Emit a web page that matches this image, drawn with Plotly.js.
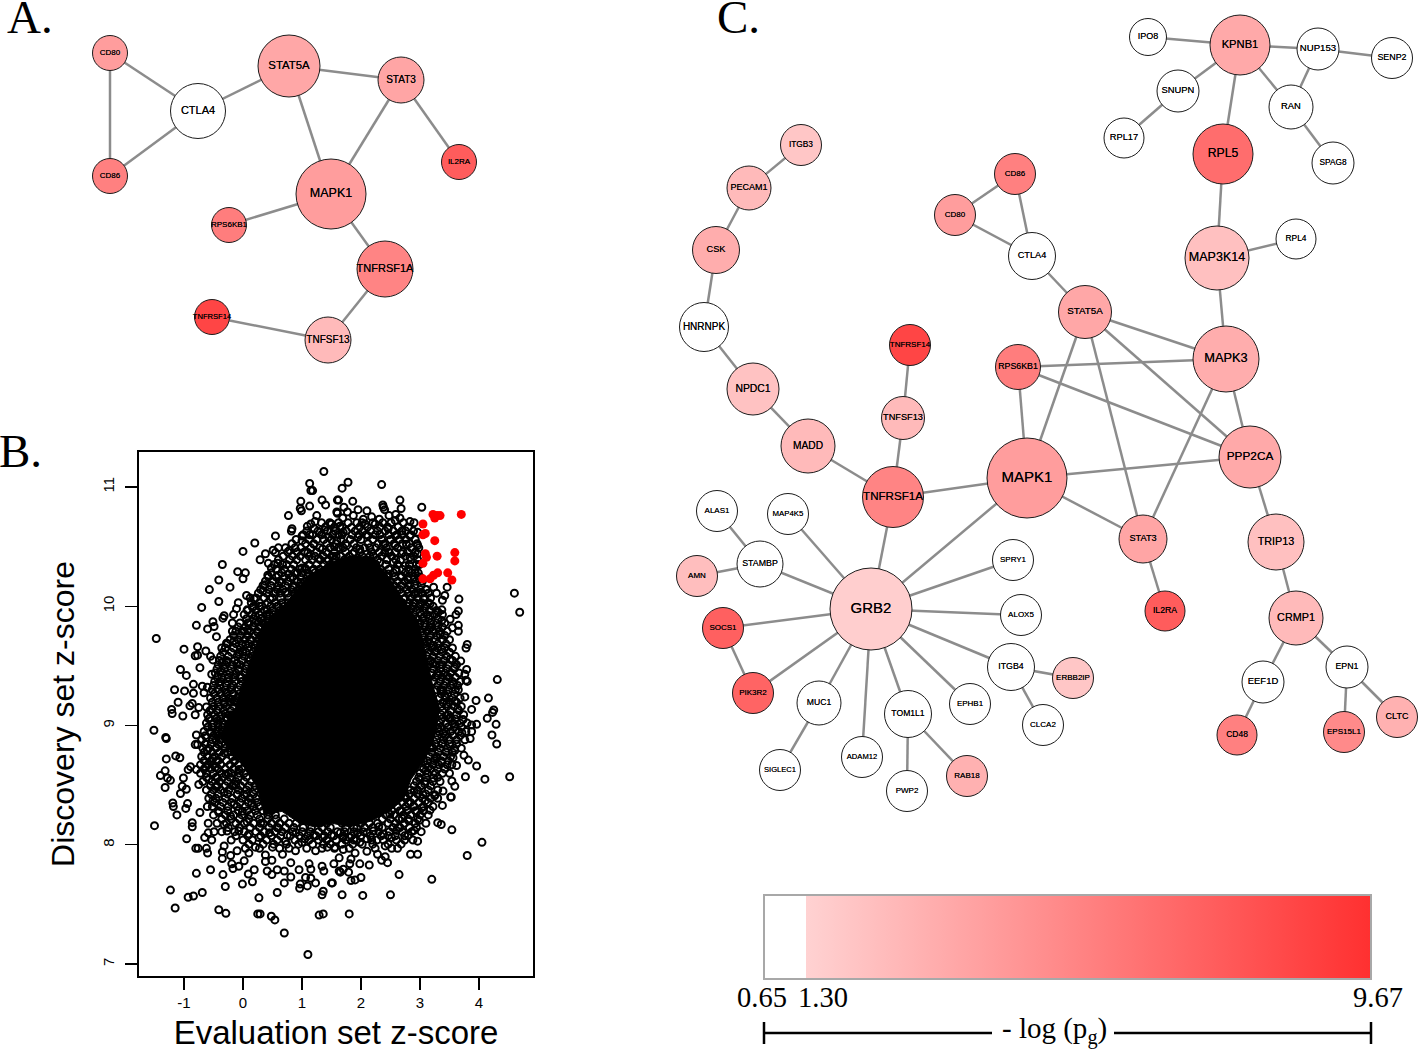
<!DOCTYPE html>
<html><head><meta charset="utf-8">
<script src="https://cdn.plot.ly/plotly-3.0.1.min.js"></script>
<style>html,body{margin:0;padding:0;background:#fff}#c{width:1418px;height:1051px}</style>
</head><body><div id="c"></div>
<script>
// ---------- Panel B: values (evaluation z, discovery z)
const ptsTopLeft=[[1.37,11.13],[1.13,11.03],[1.18,10.97],[1.15,10.97],[1.34,10.89],[1.40,10.85],[1.60,10.89],[0.98,10.88],[1.13,10.84],[0.97,10.82],[0.99,10.80],[0.77,10.76],[1.25,10.76],[1.60,10.78],[1.49,10.69],[1.22,10.71],[1.09,10.67],[1.15,10.69],[1.21,10.65],[1.38,10.64],[0.83,10.65],[0.82,10.63],[0.55,10.59],[0.20,10.53],[1.0,10.59],[1.13,10.60],[1.0,10.55],[0.0,10.46],[0.60,10.49],[0.51,10.47],[0.38,10.44],[0.55,10.45],[0.88,10.49],[0.79,10.47],[0.29,10.39],[0.59,10.36],[0.67,10.35],[0.43,10.36],[-0.35,10.35],[0.48,10.32],[1.0,10.32],[-0.09,10.29],[0.04,10.28],[0.0,10.23],[-0.41,10.22],[0.42,10.26],[0.6,10.26],[0.77,10.27],[-0.22,10.16],[-0.57,10.14],[0.37,10.18],[0.34,10.13],[0.06,10.09],[0.12,10.07],[0.19,10.06],[-0.41,10.04],[-0.08,10.03],[-0.70,9.99],[-0.11,9.98],[0.07,9.97],[0.16,9.99],[0.28,10.0],[0.41,9.97],[-0.32,9.92],[-0.34,9.90],[-0.16,9.93],[0.21,9.92],[-0.51,9.87],[-0.79,9.84],[-0.18,9.86],[0.10,9.86],[0.27,9.87],[1.3,10.62],[1.45,10.58],[1.55,10.50],[1.35,10.48],[1.2,10.52],[1.1,10.45],[1.28,10.40],[1.42,10.38],[1.58,10.42],[1.05,10.32],[1.18,10.30],[0.92,10.28],[0.8,10.24],[0.66,10.20],[0.55,10.12],[0.46,10.06],[0.72,10.12],[0.85,10.16],[0.98,10.20],[1.14,10.22],[1.25,10.2],[1.4,10.3],[1.62,10.6],[0.6,10.0],[0.32,9.9],[0.45,9.93],[0.25,9.78],[0.12,9.72],[0.08,9.8],[0.2,9.68],[0.0,9.62],[-0.1,9.52],[0.05,9.5],[-0.2,9.32],[-0.05,9.4],[-0.18,9.22],[-0.3,9.1]];
const ptsTopRight=[[1.78,11.04],[1.68,10.99],[2.35,11.02],[1.62,10.89],[1.86,10.88],[2.66,10.89],[2.37,10.85],[2.38,10.83],[2.68,10.82],[2.40,10.81],[1.71,10.83],[3.03,10.83],[1.59,10.79],[1.77,10.79],[1.95,10.81],[2.10,10.80],[2.475,10.76],[2.59,10.77],[2.66,10.74],[2.58,10.72],[2.83,10.71],[2.31,10.73],[2.18,10.75],[2.04,10.73],[1.87,10.76],[1.69,10.74],[1.50,10.69],[1.64,10.67],[1.70,10.62],[1.84,10.66],[2.07,10.69],[2.24,10.69],[2.46,10.65],[2.69,10.63],[2.96,10.62],[2.83,10.59],[2.58,10.59],[2.32,10.60],[2.12,10.59],[1.95,10.58],[1.76,10.51],[1.59,10.55],[2.96,10.51],[2.77,10.52],[2.58,10.51],[2.38,10.52],[2.15,10.49],[1.98,10.48],[1.86,10.44],[2.48,10.45],[2.69,10.44],[2.96,10.44],[2.83,10.41],[2.21,10.42],[2.94,10.35],[2.75,10.34],[2.55,10.37],[2.32,10.37],[2.10,10.34],[1.95,10.37],[1.70,10.37],[1.53,10.42],[2.99,10.23],[2.92,10.28],[2.69,10.25],[2.46,10.27],[2.83,10.18],[2.66,10.14],[2.97,10.11],[3.11,10.14],[3.23,10.16],[3.46,10.16],[3.28,10.11],[3.42,10.09],[3.38,10.05],[3.66,10.06],[3.06,10.06],[3.17,10.02],[3.37,9.97],[3.31,9.95],[3.65,9.96],[3.61,9.93],[3.51,9.89],[3.37,9.88],[3.65,9.84],[4.60,10.11],[4.69,9.95],[2.89,10.03],[2.72,10.06],[3.17,9.92],[3.0,9.95],[2.4,10.45],[2.6,10.3],[2.8,10.22],[2.9,10.1],[3.0,10.02],[2.85,9.98],[3.05,9.9],[3.15,9.8],[3.12,9.7],[3.25,9.62],[3.22,9.52],[3.3,9.42],[3.35,9.3],[3.42,9.25],[3.45,9.08]];
const ptsLeft=[[-1.47,9.73],[-0.60,9.81],[-0.49,9.83],[-0.45,9.745],[-1.0,9.64],[-0.77,9.66],[-0.81,9.585],[-0.77,9.59],[-0.63,9.625],[-0.36,9.65],[-0.28,9.69],[-0.55,9.58],[-0.51,9.55],[-0.73,9.485],[-1.06,9.47],[-0.96,9.42],[-0.35,9.53],[-0.53,9.43],[-0.38,9.45],[-0.25,9.40],[-0.84,9.345],[-0.69,9.33],[-0.605,9.32],[-1.16,9.30],[-0.99,9.29],[-0.84,9.27],[-0.66,9.275],[-0.41,9.36],[-1.10,9.195],[-0.86,9.185],[-0.90,9.165],[-0.75,9.15],[-0.62,9.155],[-1.21,9.135],[-1.20,9.10],[-1.02,9.08],[-0.81,9.09],[-0.52,9.136],[-0.57,9.06],[-0.45,9.06],[-0.27,9.065],[-0.12,9.05],[-1.51,8.96],[-1.31,8.90],[-1.30,8.89],[-0.79,8.92],[-0.62,8.90],[-0.55,8.94],[-0.41,8.95],[-0.81,8.84],[-0.77,8.84],[-0.605,8.79],[-0.45,8.815],[-0.51,8.725],[-1.30,8.72],[-1.14,8.745],[-1.07,8.73],[-0.89,8.655],[-0.93,8.63],[-0.79,8.63],[-0.63,8.65],[-0.47,8.65],[-1.32,8.62],[-1.40,8.58],[-1.28,8.56],[-1.23,8.54],[-1.01,8.56],[-0.58,8.55],[-0.435,8.56],[-0.29,8.59],[-0.75,8.505],[-1.03,8.49],[-0.96,8.465],[-1.32,8.48],[-1.06,8.43],[-0.45,8.485],[-0.32,8.44],[-0.15,8.51],[-0.07,8.63],[-0.15,8.70],[-0.32,8.77],[-0.10,8.42],[-0.18,9.79],[0.02,9.79],[0.19,9.83],[-0.15,9.71],[0.045,9.68],[-0.07,9.60],[-0.27,9.53],[-0.07,9.46],[0.10,9.57],[-0.29,9.275],[-0.15,9.205],[-0.32,9.18]];
const ptsBottomLeft=[[-1.19,8.35],[-1.18,8.32],[-0.94,8.345],[-0.97,8.305],[-1.12,8.25],[-1.50,8.16],[-0.73,8.27],[-0.605,8.32],[-0.51,8.37],[-0.86,8.185],[-0.86,8.15],[-0.59,8.18],[-0.41,8.27],[-0.32,8.17],[-0.955,8.05],[-0.59,8.10],[-0.49,8.11],[-0.65,8.06],[-0.53,8.04],[-0.80,7.97],[-0.76,7.97],[-0.62,7.97],[-0.60,7.93],[-0.32,7.99],[-0.35,7.94],[-0.35,7.884],[-0.21,7.91],[-0.10,7.95],[0.10,7.93],[-0.19,7.84],[-0.17,7.80],[-0.07,7.82],[0.02,7.865],[0.38,7.915],[0.49,7.87],[0.38,7.86],[0.67,7.92],[-0.79,7.76],[-0.55,7.79],[-0.34,7.75],[0.09,7.755],[0.19,7.79],[0.41,7.78],[0.49,7.75],[0.58,7.79],[0.70,7.78],[0.81,7.85],[0.95,7.79],[0.81,7.73],[1.12,7.84],[1.15,7.795],[1.37,7.78],[1.34,7.82],[1.06,7.725],[1.15,7.72],[1.23,7.68],[-0.30,7.65],[0.16,7.69],[-0.01,7.67],[0.70,7.68],[0.97,7.67],[0.96,7.635],[1.09,7.655],[1.50,7.68],[-1.23,7.62],[-0.69,7.60],[-0.84,7.57],[-0.93,7.56],[0.58,7.60],[1.36,7.61],[1.34,7.58],[0.27,7.555],[-1.15,7.47],[-0.41,7.455],[-0.29,7.425],[0.25,7.42],[0.29,7.42],[0.48,7.40],[0.54,7.37],[1.29,7.41],[1.36,7.42],[0.70,7.26],[1.10,7.08],[-0.15,8.34],[-0.01,8.28],[-0.27,8.115],[-0.07,8.115],[0.10,8.09],[0.21,7.98],[0.5,7.98],[0.89,7.95],[0.72,8.03],[1.0,8.02],[1.23,7.95],[1.43,7.98],[1.63,7.89],[1.54,7.84],[1.63,7.78],[0.27,8.06],[0.07,8.19],[-0.21,8.24],[0.3,8.18],[0.45,8.1],[0.6,8.14],[0.75,8.08],[0.9,8.1],[1.05,8.05],[1.2,8.08],[1.35,8.06],[1.5,8.08],[1.65,8.1],[1.8,8.06],[1.95,8.1],[0.15,8.35],[0.02,8.42],[-0.12,8.5],[-0.25,8.6],[-0.2,8.78],[-0.45,8.7]];
const ptsBottomRight=[[3.53,8.40],[3.25,8.41],[3.09,8.37],[3.38,8.33],[3.17,8.29],[3.03,8.31],[2.99,8.205],[2.81,8.20],[3.30,8.185],[3.36,8.17],[3.54,8.125],[2.90,8.12],[2.63,8.145],[2.80,8.08],[2.88,8.04],[2.96,8.03],[2.52,8.06],[4.05,8.02],[2.62,7.97],[2.41,7.99],[2.27,8.04],[2.10,8.05],[1.88,8.04],[1.98,8.02],[1.70,8.06],[2.10,7.945],[2.28,7.92],[1.90,7.93],[2.84,7.92],[2.96,7.92],[3.80,7.91],[2.41,7.90],[2.35,7.87],[2.45,7.85],[2.14,7.83],[1.98,7.84],[1.83,7.88],[1.81,7.84],[1.70,7.795],[1.65,7.77],[1.79,7.77],[2.645,7.75],[3.20,7.71],[2.0,7.725],[1.90,7.705],[1.83,7.70],[1.515,7.68],[1.68,7.58],[2.03,7.575],[2.50,7.58],[1.80,7.42],[2.21,8.115],[2.38,8.09],[1.93,8.14],[2.69,8.28],[2.49,8.255],[2.89,8.325],[2.75,8.41],[1.56,7.98],[1.70,7.96],[2.1,8.1],[2.3,8.15],[2.95,8.28],[2.7,8.22],[2.6,8.12],[2.8,8.35],[2.9,8.45],[3.05,8.42]];
const ptsRight=[[3.55,9.82],[3.65,9.79],[3.39,9.72],[3.80,9.68],[3.78,9.65],[3.37,9.64],[3.69,9.54],[3.51,9.555],[3.59,9.49],[3.79,9.47],[3.76,9.43],[3.78,9.38],[3.80,9.37],[4.31,9.385],[3.45,9.415],[3.56,9.345],[3.65,9.30],[3.76,9.24],[3.95,9.21],[4.16,9.23],[3.59,9.205],[3.64,9.14],[3.875,9.135],[4.25,9.13],[4.23,9.11],[4.14,9.06],[4.29,9.01],[3.73,9.05],[3.96,9.01],[3.875,9.005],[3.59,9.01],[3.71,8.94],[3.85,8.89],[3.875,8.95],[4.22,8.92],[4.30,8.845],[3.59,8.79],[3.44,8.78],[3.745,8.75],[3.56,8.73],[3.82,8.71],[3.37,8.69],[3.54,8.67],[3.62,8.665],[3.96,8.66],[3.77,8.57],[4.10,8.55],[4.52,8.57],[3.54,8.535],[3.59,8.49],[3.39,8.45],[3.52,8.40],[3.23,8.56],[3.14,8.65],[3.25,8.42],[3.08,8.51],[3.17,9.82],[3.34,9.76],[3.23,9.67],[3.17,9.54],[3.34,9.51],[3.39,9.29],[3.45,9.18],[3.51,9.07],[3.39,8.93],[3.17,8.815],[3.28,8.73],[3.06,8.70],[3.3,8.98],[3.38,8.85],[3.2,8.82],[3.25,8.72],[3.1,8.62],[3.0,8.55]];
// crowded band around the solid core, estimated row by row: [discovery z, [evaluation z ...]]
const bandRows=[
[10.70,[1.33,1.47,1.62,1.78,1.93,2.02,2.2,2.37,2.51,2.72,2.9]],
[10.63,[1.08,1.27,1.43,1.56,1.75,1.9,2.03,2.16,2.28,2.41,2.55,2.76,2.89]],
[10.56,[0.9,1.12,1.25,1.37,1.5,1.66,1.82,2.0,2.2,2.35,2.5,2.65,2.76,2.92]],
[10.49,[0.72,0.98,1.15,1.3,1.47,1.62,1.7,1.92,2.06,2.25,2.43,2.62,2.85,2.98]],
[10.42,[0.68,0.84,0.97,1.12,1.22,1.36,1.51,1.66,1.8,2.02,2.15,2.35,2.52,2.75,2.9]],
[10.35,[0.53,0.74,0.86,1.12,1.25,1.37,1.48,1.6,1.78,1.88,2.25,2.42,2.62,2.82,2.99]],
[10.28,[0.48,0.66,0.88,1.0,1.1,1.22,1.33,1.5,2.3,2.38,2.55,2.75,2.86,2.97]],
[10.21,[0.38,0.5,0.62,0.76,0.92,1.05,1.17,2.38,2.5,2.62,2.74,2.93,3.04]],
[10.14,[0.3,0.44,0.58,0.68,0.82,0.94,1.02,2.52,2.62,2.78,2.87,3.0,3.1]],
[10.07,[0.22,0.36,0.5,0.64,0.78,0.9,2.62,2.75,2.85,2.95,3.08,3.18]],
[10.0,[0.18,0.32,0.47,0.58,0.7,0.8,2.78,2.88,2.98,3.1,3.22]],
[9.93,[0.02,0.15,0.28,0.4,0.52,0.6,2.9,3.02,3.12,3.25,3.38]],
[9.86,[-0.05,0.08,0.2,0.33,0.42,3.0,3.08,3.18,3.28,3.42]],
[9.79,[-0.12,-0.02,0.12,0.24,0.36,3.02,3.12,3.22,3.33,3.46]],
[9.72,[-0.22,-0.08,0.03,0.14,0.26,3.06,3.15,3.26,3.38,3.5]],
[9.65,[-0.3,-0.16,-0.04,0.08,0.2,3.1,3.2,3.3,3.42,3.55]],
[9.58,[-0.38,-0.25,-0.1,0.02,0.16,3.12,3.22,3.33,3.45,3.6]],
[9.51,[-0.42,-0.3,-0.18,-0.05,0.08,3.16,3.27,3.38,3.48,3.62]],
[9.44,[-0.47,-0.34,-0.22,-0.12,0.03,3.2,3.3,3.42,3.52,3.66]],
[9.37,[-0.48,-0.38,-0.26,-0.14,-0.02,3.23,3.34,3.44,3.55,3.68]],
[9.30,[-0.52,-0.42,-0.3,-0.2,-0.08,3.28,3.38,3.48,3.6]],
[9.23,[-0.55,-0.44,-0.33,-0.24,-0.1,3.33,3.44,3.55,3.68]],
[9.16,[-0.5,-0.4,-0.28,-0.16,3.36,3.46,3.58,3.7]],
[9.09,[-0.6,-0.48,-0.36,-0.24,-0.18,3.36,3.48,3.62,3.74]],
[9.02,[-0.62,-0.5,-0.42,-0.34,3.34,3.44,3.56,3.68,3.8]],
[8.95,[-0.66,-0.55,-0.45,-0.36,3.32,3.44,3.52,3.66,3.78]],
[8.88,[-0.7,-0.52,-0.46,-0.38,3.28,3.4,3.5,3.62,3.76]],
[8.81,[-0.68,-0.58,-0.46,-0.3,-0.22,3.22,3.34,3.46,3.58,3.7]],
[8.74,[-0.7,-0.6,-0.48,-0.36,-0.18,-0.1,3.16,3.28,3.4,3.52]],
[8.67,[-0.72,-0.6,-0.5,-0.38,-0.22,-0.08,3.1,3.22,3.32,3.46]],
[8.60,[-0.72,-0.62,-0.5,-0.36,-0.2,-0.06,0.02,3.0,3.12,3.26,3.38,3.5]],
[8.53,[-0.68,-0.52,-0.4,-0.26,-0.12,0.02,0.14,2.94,3.08,3.22,3.34]],
[8.46,[-0.62,-0.5,-0.38,-0.24,-0.08,0.06,0.2,2.84,2.96,3.14,3.3]],
[8.39,[-0.58,-0.46,-0.3,-0.18,-0.02,0.12,0.22,2.76,2.9,3.04,3.18,3.3]],
[8.32,[-0.52,-0.38,-0.25,-0.1,0.04,0.18,0.28,2.62,2.76,2.9,3.06,3.22]],
[8.25,[-0.5,-0.3,-0.16,-0.02,0.12,0.24,0.42,0.55,2.42,2.56,2.72,2.84,3.0,3.14]],
[8.18,[-0.44,-0.28,-0.12,0.02,0.18,0.34,0.48,0.62,0.78,0.9,1.3,1.42,1.68,2.0,2.14,2.28,2.46,2.58,2.74,2.92,3.1]],
[8.11,[-0.36,-0.14,0.02,0.22,0.36,0.54,0.66,0.84,1.0,1.14,1.28,1.44,1.6,1.72,1.88,2.04,2.3,2.48,2.7,2.86,3.02]],
[8.04,[-0.2,0.0,0.16,0.4,0.58,0.88,1.12,1.28,1.42,1.58,1.74,1.92,2.18,2.38,2.6,2.74]],
[7.97,[0.04,0.28,0.62,0.78,1.08,1.34,1.55,1.8,2.24,2.52]]
];
const bandRowsInner=[
[10.665,[1.4,1.55,1.68,1.98,2.11,2.32,2.45,2.63,2.8]],
[10.60,[1.02,1.18,1.33,1.52,1.68,1.85,1.97,2.09,2.24,2.47,2.61,2.7,2.84]],
[10.525,[0.83,1.06,1.2,1.42,1.58,1.74,1.88,2.12,2.29,2.41,2.56,2.7,2.82,2.95]],
[10.455,[0.76,0.92,1.04,1.25,1.41,1.55,1.74,1.89,1.99,2.18,2.31,2.47,2.58,2.71,2.79,2.92]],
[10.39,[0.6,0.79,0.91,1.06,1.17,1.31,1.45,1.56,1.72,1.83,1.96,2.08,2.28,2.44,2.59,2.67,2.85,2.96]],
[10.31,[0.56,0.7,0.82,0.96,1.07,1.2,1.3,1.42,1.55,2.22,2.33,2.47,2.59,2.7,2.81,2.92]],
[10.245,[0.43,0.56,0.7,0.84,0.97,1.1,1.23,1.36,2.33,2.44,2.57,2.68,2.8,2.9,3.0]],
[10.175,[0.34,0.47,0.6,0.72,0.86,0.98,1.1,2.44,2.56,2.68,2.8,2.91,3.02]],
[10.11,[0.26,0.4,0.52,0.63,0.76,0.88,0.98,2.56,2.68,2.8,2.92,3.04,3.14]],
[10.03,[0.14,0.28,0.42,0.54,0.66,0.76,0.85,2.7,2.82,2.92,3.03,3.14]],
[9.965,[0.08,0.22,0.36,0.5,0.62,0.72,2.82,2.94,3.06,3.16,3.28]],
[9.895,[0.06,0.17,0.3,0.43,0.52,2.94,3.05,3.15,3.3]],
[9.825,[-0.08,0.04,0.16,0.28,0.38,2.98,3.08,3.2,3.3,3.38]],
[9.755,[-0.16,-0.04,0.08,0.2,0.3,3.04,3.18,3.28,3.42]],
[9.685,[-0.26,-0.12,-0.02,0.1,0.24,3.08,3.17,3.3,3.44]],
[9.615,[-0.34,-0.2,-0.06,0.05,0.17,3.14,3.26,3.38,3.5]],
[9.545,[-0.4,-0.28,-0.14,-0.02,0.12,3.18,3.3,3.41,3.55]],
[9.475,[-0.44,-0.32,-0.2,-0.08,0.05,3.22,3.35,3.46,3.58]],
[9.405,[-0.44,-0.36,-0.24,-0.16,-0.02,3.26,3.37,3.49,3.6]],
[9.335,[-0.5,-0.39,-0.28,-0.17,-0.05,3.3,3.41,3.52,3.64]],
[9.265,[-0.49,-0.38,-0.27,-0.16,-0.07,3.36,3.47,3.58]],
[9.195,[-0.52,-0.42,-0.32,-0.22,-0.13,3.39,3.5,3.62]],
[9.125,[-0.56,-0.44,-0.33,-0.21,3.38,3.52,3.66]],
[9.055,[-0.58,-0.46,-0.38,-0.28,3.37,3.5,3.6]],
[8.985,[-0.6,-0.52,-0.42,-0.35,3.34,3.47,3.58,3.7]],
[8.915,[-0.64,-0.5,-0.42,-0.34,3.3,3.43,3.56,3.68]],
[8.845,[-0.64,-0.54,-0.42,-0.3,3.26,3.37,3.5,3.62]],
[8.775,[-0.66,-0.52,-0.4,-0.26,-0.14,3.2,3.31,3.44,3.55]],
[8.705,[-0.66,-0.54,-0.42,-0.28,-0.14,3.12,3.24,3.36,3.48]],
[8.635,[-0.66,-0.54,-0.42,-0.3,-0.16,-0.02,3.06,3.18,3.3,3.42]],
[8.565,[-0.62,-0.46,-0.34,-0.22,-0.08,0.06,2.98,3.1,3.3]],
[8.495,[-0.55,-0.44,-0.3,-0.18,-0.04,0.1,0.2,2.9,3.02,3.18]],
[8.425,[-0.54,-0.42,-0.26,-0.1,0.06,0.18,2.82,2.96,3.1]],
[8.355,[-0.48,-0.34,-0.2,-0.05,0.09,0.24,2.7,2.84,2.98,3.14]],
[8.285,[-0.42,-0.26,-0.08,0.07,0.21,0.34,0.48,2.52,2.66,2.78,2.92,3.06]],
[8.215,[-0.36,-0.2,-0.06,0.1,0.28,0.42,0.56,0.7,2.36,2.5,2.64,2.8,2.96]],
[8.145,[-0.25,-0.06,0.12,0.28,0.44,0.58,0.72,0.86,1.02,1.16,1.34,1.48,1.74,1.88,2.06,2.2,2.36,2.54,2.66,2.82,2.94]],
[8.075,[-0.12,0.08,0.3,0.48,0.64,0.8,0.96,1.1,1.24,1.38,1.54,1.7,1.84,2.0,2.16,2.34,2.46,2.58,2.74]],
[8.005,[0.1,0.34,0.52,0.74,0.94,1.18,1.36,1.48,1.68,1.86,2.02,2.2,2.46,2.68]]
];
const ptsHighlighted=[[3.22,10.77],[3.25,10.74],[3.29,10.76],[3.34,10.76],[3.70,10.77],[3.05,10.69],[3.09,10.61],[3.05,10.60],[3.25,10.55],[3.09,10.44],[3.11,10.41],[3.29,10.42],[3.59,10.45],[3.59,10.38],[3.05,10.36],[3.05,10.23],[3.17,10.23],[3.23,10.26],[3.30,10.28],[3.47,10.28],[3.54,10.22]];
// outline of the solid area where the points overprint to pure black
const denseCoreEval=[2.18,2.48,2.72,2.97,3.09,3.21,3.33,3.27,3.09,2.85,2.72,2.48,2.18,1.81,1.51,1.21,0.96,0.66,0.36,0.24,-0.07,-0.37,-0.31,-0.13,-0.01,0.18,0.36,0.72,1.09,1.45,1.81];
const denseCoreDisc=[10.42,10.24,10.05,9.88,9.62,9.35,9.15,8.95,8.72,8.55,8.38,8.28,8.20,8.15,8.18,8.15,8.18,8.28,8.25,8.48,8.72,8.88,9.02,9.15,9.35,9.62,9.85,10.02,10.25,10.36,10.42];
const evalTicks=[-1,0,1,2,3,4];
const discTicks=[7,8,9,10,11];

// ---------- Panel A network
const aNames=["CD80","CTLA4","STAT5A","STAT3","IL2RA","CD86","MAPK1","RPS6KB1","TNFRSF1A","TNFRSF14","TNFSF13"];
const aLogP=[4.0,0.9,3.5,3.6,7.4,5.5,4.0,5.7,5.3,8.6,2.5];
const aX=[110,198,289,401,459,110,331,229,385,212,328];
const aY=[52,110,65,79,161,175,193,224,268,316,339];
const aRadius=[17.5,27.5,31,23,17.5,17.5,35,17.5,28,17.5,23];
const aLabelSize=[8,11,11.4,10,8,8,12.5,8,11,7.6,10];
const aEdges=[["CD80","CD86"],["CD80","CTLA4"],["CD86","CTLA4"],["CTLA4","STAT5A"],["STAT5A","STAT3"],["STAT5A","MAPK1"],["STAT3","MAPK1"],["STAT3","IL2RA"],["MAPK1","RPS6KB1"],["MAPK1","TNFRSF1A"],["TNFRSF1A","TNFSF13"],["TNFSF13","TNFRSF14"]];

// ---------- Panel C network
const cNames=["ITGB3","PECAM1","CSK","HNRNPK","NPDC1","MADD","TNFRSF1A","TNFSF13","TNFRSF14","RPS6KB1","CD86","CD80","CTLA4","STAT5A","MAPK1","ALAS1","MAP4K5","STAMBP","AMN","GRB2","SOCS1","PIK3R2","MUC1","SIGLEC1","ADAM12","TOM1L1","PWP2","RAB18","EPHB1","ITGB4","ERBB2IP","CLCA2","ALOX5","SPRY1","IPO8","KPNB1","NUP153","SENP2","SNUPN","RAN","RPL17","SPAG8","RPL5","RPL4","MAP3K14","MAPK3","PPP2CA","STAT3","IL2RA","TRIP13","CRMP1","EPN1","EEF1D","CD48","EPS15L1","CLTC"];
const cLogP=[1.9,2.5,3.2,1.0,2.1,2.5,5.3,2.5,8.6,5.7,5.5,4.0,0.9,3.5,4.0,0.9,0.9,0.9,2.3,1.5,7.2,7.0,0.9,0.9,0.9,0.9,0.9,3.0,0.9,0.9,1.9,0.9,0.9,0.9,0.9,3.4,0.9,0.9,0.9,0.9,0.9,0.9,6.5,0.9,2.2,3.2,3.4,3.6,7.4,2.2,2.5,0.9,0.9,5.5,5.0,3.0];
const cX=[801,749,716,704,753,808,893,903,910,1018,1015,955,1032,1085,1027,717,788,760,697,871,723,753,819,780,862,908,907,967,970,1011,1073,1043,1021,1013,1148,1240,1318,1392,1178,1291,1124,1333,1223,1296,1217,1226,1250,1143,1165,1276,1296,1347,1263,1237,1344,1397];
const cY=[144,187,249,326,388,445,496,417,344,366,173,214,255,311,477,510,513,563,575,608,627,692,702,769,756,713,790,775,703,666,677,724,614,559,36,44,48,57,90,106,137,162,153,238,257,358,456,538,610,541,617,666,681,734,731,716];
const cRadius=[20.5,22,23.5,24.5,26,27,30.5,21.5,20.5,22.5,20.5,20.5,23.5,26.5,40,20.5,20.5,23,20.5,41,20.5,20.5,22,20.5,20.5,23.5,20.5,20.5,20.5,23.5,20.5,20.5,20.5,20.5,18.5,30,21,20.5,21,22,20,21,30,20,32,33,31,24,20,28,27,21,21,20,20.5,20.5];
const cLabelSize=[8.3,9,9.2,10,10.4,10.2,11.6,9.2,8,8.8,8,8,9.2,9.8,15,8,7.8,8.8,8,15,8,8,8.6,7.6,7.6,8.6,8,8,8,8.8,8,8,8,8,9,11.2,9.6,8.9,9.4,9.4,9.3,8.3,12.2,8.4,12.5,12.8,11.8,9.2,8.7,10.8,10.8,8.8,9.5,8.5,8.1,9];
const cEdges=[["ITGB3","PECAM1"],["PECAM1","CSK"],["CSK","HNRNPK"],["HNRNPK","NPDC1"],["NPDC1","MADD"],["MADD","TNFRSF1A"],["TNFRSF1A","TNFSF13"],["TNFSF13","TNFRSF14"],["TNFRSF1A","MAPK1"],["TNFRSF1A","GRB2"],["MAPK1","GRB2"],["MAPK1","RPS6KB1"],["MAPK1","STAT5A"],["MAPK1","PPP2CA"],["MAPK1","STAT3"],["CD86","CD80"],["CD86","CTLA4"],["CD80","CTLA4"],["CTLA4","STAT5A"],["STAT5A","MAPK3"],["STAT5A","PPP2CA"],["STAT5A","STAT3"],["RPS6KB1","MAPK3"],["RPS6KB1","PPP2CA"],["MAPK3","PPP2CA"],["MAPK3","STAT3"],["MAPK3","MAP3K14"],["MAP3K14","RPL5"],["MAP3K14","RPL4"],["RPL5","KPNB1"],["KPNB1","IPO8"],["KPNB1","NUP153"],["KPNB1","SNUPN"],["KPNB1","RAN"],["NUP153","SENP2"],["NUP153","RAN"],["SNUPN","RPL17"],["RAN","SPAG8"],["PPP2CA","TRIP13"],["TRIP13","CRMP1"],["CRMP1","EEF1D"],["CRMP1","EPN1"],["EEF1D","CD48"],["EPN1","EPS15L1"],["EPN1","CLTC"],["STAT3","IL2RA"],["GRB2","MAP4K5"],["GRB2","STAMBP"],["GRB2","SOCS1"],["GRB2","PIK3R2"],["GRB2","MUC1"],["GRB2","ADAM12"],["GRB2","TOM1L1"],["GRB2","EPHB1"],["GRB2","ITGB4"],["GRB2","ALOX5"],["GRB2","SPRY1"],["ALAS1","STAMBP"],["AMN","STAMBP"],["SOCS1","PIK3R2"],["MUC1","SIGLEC1"],["TOM1L1","PWP2"],["TOM1L1","RAB18"],["ITGB4","ERBB2IP"],["ITGB4","CLCA2"]];

// ---------- colour key (the white part of the key ends 42 px along its 607 px length)
const keyMin=0.65, keyMax=9.67;
const t=42/607;
const heatScale=[[0,"#ffffff"],[t,"#ffffff"],[t+0.0001,"#ffd2d2"],[1,"#ff3030"]];

const W=1418,H=1051,YS=1; // YS: page rows the drawing sits below the axis origin
const outline=pts=>({x:pts.map(p=>p[0]),y:pts.map(p=>p[1])});
const bandPts=[];
bandRows.concat(bandRowsInner).forEach(r=>r[1].forEach(x=>bandPts.push([x,r[0]])));
const openPts=[].concat(ptsTopLeft,ptsTopRight,ptsLeft,ptsBottomLeft,ptsBottomRight,ptsRight,bandPts);
function edgeTrace(names,xs,ys,edges){
  const ex=[],ey=[];
  edges.forEach(([a,b])=>{const i=names.indexOf(a),j=names.indexOf(b);ex.push(xs[i],xs[j],null);ey.push(ys[i],ys[j],null);});
  return {type:"scatter",mode:"lines",x:ex,y:ey,xaxis:"x2",yaxis:"y2",hoverinfo:"skip",line:{color:"#8c8c8c",width:2.5}};
}
function nodeTrace(names,xs,ys,radii,logp,labelSizes,withKey){
  const marker={size:radii.map(r=>2*r),color:logp,cmin:keyMin,cmax:keyMax,colorscale:heatScale,showscale:!!withKey,line:{color:"#1c1c1c",width:1},opacity:1};
  if(withKey) marker.colorbar={orientation:"h",lenmode:"pixels",len:607,thicknessmode:"pixels",thickness:84,x:764/W,xanchor:"left",y:1-981/H,yanchor:"bottom",xpad:0,ypad:0,outlinecolor:"#a8a8a8",outlinewidth:2,borderwidth:0,ticks:"",showticklabels:false};
  return {type:"scatter",mode:"markers+text",x:xs,y:ys,xaxis:"x2",yaxis:"y2",text:names,textposition:"middle center",cliponaxis:false,
    textfont:{family:"Liberation Sans, Arial, sans-serif",size:labelSizes,color:"#000",shadow:"0 0 0.5px rgba(0,0,0,0.8)"},marker:marker,hoverinfo:"text"};
}
const traces=[
  {type:"scatter",mode:"lines",x:denseCoreEval,y:denseCoreDisc,fill:"toself",fillcolor:"#000",line:{color:"#000",width:1},hoverinfo:"skip"},
  Object.assign({type:"scatter",mode:"markers",marker:{symbol:"circle-open",size:7,color:"#000",line:{width:2,color:"#000"}},hoverinfo:"skip"},outline(openPts)),
  Object.assign({type:"scatter",mode:"markers",marker:{size:9,color:"#ff0000"},hoverinfo:"skip"},outline(ptsHighlighted)),
  edgeTrace(aNames,aX,aY,aEdges),
  edgeTrace(cNames,cX,cY,cEdges),
  nodeTrace(aNames,aX,aY,aRadius,aLogP,aLabelSize,false),
  nodeTrace(cNames,cX,cY,cRadius,cLogP,cLabelSize,true)
];
const serif="Liberation Serif, Times New Roman, serif";
const sans="Liberation Sans, Arial, sans-serif";
const note=(text,x,y,size,anchor,xshift)=>({xref:"x2",yref:"y2",x:x,y:y,xshift:xshift||0,text:text,showarrow:false,xanchor:anchor||"center",yanchor:"middle",font:{family:serif,size:size,color:"#000"}});
const pageLine=(x0,y0,x1,y1)=>({type:"line",xref:"x2",yref:"y2",x0:x0,y0:y0,x1:x1,y1:y1,line:{color:"#000",width:2.5}});
const layout={
  width:W,height:H,showlegend:false,paper_bgcolor:"#fff",plot_bgcolor:"rgba(0,0,0,0)",margin:{l:0,r:0,t:0,b:0},
  xaxis:{domain:[139/W,533/W],range:[(139-243)/59,(533-243)/59],tickmode:"array",tickvals:evalTicks,ticktext:evalTicks.map(String),ticks:"outside",ticklen:12,tickwidth:1.2,tickcolor:"#000",ticklabelstandoff:0,showgrid:false,zeroline:false,showline:true,mirror:true,linecolor:"#000",linewidth:1.6,tickfont:{family:sans,size:15,color:"#000"},title:{text:"Evaluation set z-score",font:{family:sans,size:33,color:"#000"},standoff:16},anchor:"y"},
  yaxis:{domain:[1-(975+YS)/H,1-(451+YS)/H],range:[7-12/119.25,11+35/119.25],tickmode:"array",tickvals:discTicks,ticktext:discTicks.map(String),ticks:"outside",ticklen:12,tickwidth:1.2,tickcolor:"#000",tickangle:-90,ticklabelstandoff:5,showgrid:false,zeroline:false,showline:true,mirror:true,linecolor:"#000",linewidth:1.6,tickfont:{family:sans,size:15,color:"#000"},title:{text:"Discovery set z-score",font:{family:sans,size:32,color:"#000"},standoff:16},anchor:"x"},
  xaxis2:{domain:[0,1],range:[0,W],visible:false,anchor:"y2",fixedrange:true},
  yaxis2:{domain:[0,1],range:[H-YS,-YS],visible:false,anchor:"x2",fixedrange:true},
  annotations:[
    note("A.",5,16,47,"left"),note("B.",0,450,47,"left",-3),note("C.",715,16,47,"left"),
    note("0.65",762,996,28.5),note("1.30",823,996,28.5),note("9.67",1378,996,28.5),
    note("- log (p<sub>g</sub>)",1054,1029,29)
  ],
  shapes:[pageLine(764,1032,992,1032),pageLine(1114,1032,1371,1032),pageLine(764,1021,764,1043),pageLine(1371,1021,1371,1043)]
};
Plotly.newPlot("c",traces,layout,{displayModeBar:false,staticPlot:true});
</script></body></html>
